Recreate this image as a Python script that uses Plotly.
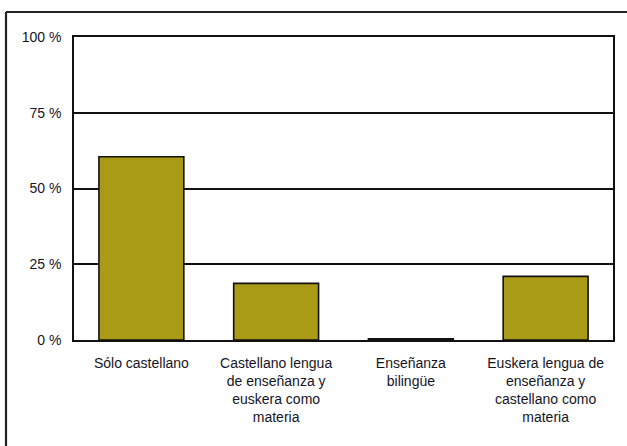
import plotly.graph_objects as go

categories = [
    "Sólo castellano",
    "Castellano lengua<br>de enseñanza y<br>euskera como<br>materia",
    "Enseñanza<br>bilingüe",
    "Euskera lengua de<br>enseñanza y<br>castellano como<br>materia",
]
values = [60.5, 18.7, 0.4, 21.0]
tick_vals = [0, 25, 50, 75, 100]
tick_text = ["0 %", "25 %", "50 %", "75 %", "100 %"]

fig = go.Figure(go.Bar(
    x=categories, y=values,
    marker=dict(color="#a99b16", line=dict(color="#111111", width=1.6)),
))

W, H = 627, 446
L, R, T, B = 74, 14, 37, 106
pw, ph = W - L - R, H - T - B

def px(xp):
    return (xp - L) / pw

def py(yp):
    return 1 - (yp - T) / ph

fig.update_layout(
    width=W, height=H,
    margin=dict(l=L, r=R, t=T, b=B),
    paper_bgcolor="white", plot_bgcolor="white",
    bargap=0.37,
    showlegend=False,
    font=dict(family="Liberation Sans, Arial, sans-serif", size=14, color="#15151f"),
    xaxis=dict(
        showgrid=False, showline=True, linecolor="#111111", linewidth=1.6, mirror=True,
        ticks="outside", ticklen=9, tickcolor="rgba(0,0,0,0)",
        tickfont=dict(size=14),
    ),
    yaxis=dict(
        range=[0, 100], tickvals=tick_vals, ticktext=tick_text,
        showgrid=True, gridcolor="#111111", gridwidth=1.6,
        showline=True, linecolor="#111111", linewidth=1.6, mirror=True,
        zeroline=False,
        ticks="outside", ticklen=8, tickcolor="rgba(0,0,0,0)",
        tickfont=dict(size=14),
    ),
    shapes=[
        dict(type="line", xref="paper", yref="paper", x0=px(6), x1=px(627), y0=py(12), y1=py(12),
             line=dict(color="#222222", width=2.2)),
        dict(type="line", xref="paper", yref="paper", x0=px(6), x1=px(6), y0=py(12), y1=py(446),
             line=dict(color="#222222", width=2.2)),
    ],
)

fig.write_html(
    "out.html",
    config={"displayModeBar": False},
    post_script="document.body.style.margin='0';document.body.style.padding='0';",
)
